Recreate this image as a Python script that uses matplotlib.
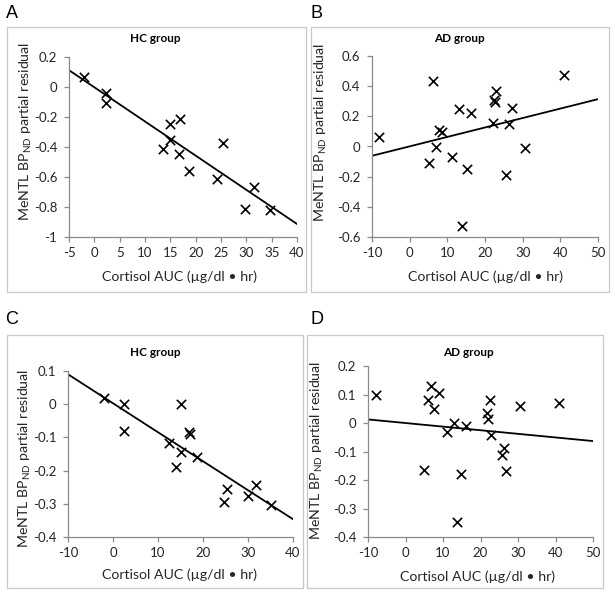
import numpy as np
import matplotlib
matplotlib.use("Agg")
import matplotlib.pyplot as plt
from matplotlib.patches import Rectangle

plt.rcParams['font.family'] = ['Lato', 'DejaVu Sans']

# ---- data ----
# HC group, panel A
hc_x_a = [-2.0, 2.3, 2.3, 15.0, 16.9, 15.0, 13.6, 16.7, 18.7, 25.3, 24.3, 31.6, 29.8, 34.7]
hc_y_a = [0.067, -0.04, -0.107, -0.244, -0.213, -0.351, -0.413, -0.447, -0.558,
          -0.373, -0.613, -0.669, -0.811, -0.818]
# AD group, panel B
ad_x_b = [-8.1, 6.2, 5.2, 7.0, 7.7, 8.7, 11.2, 13.0, 15.2, 16.2, 13.8, 22.0, 22.5,
          22.6, 23.0, 27.1, 26.4, 25.7, 30.6, 40.9]
ad_y_b = [0.06, 0.437, -0.11, 0.0, 0.11, 0.093, -0.07, 0.247, -0.15, 0.225, -0.525,
          0.155, 0.309, 0.296, 0.368, 0.254, 0.15, -0.188, -0.007, 0.474]
# HC group, panel C
hc_x_c = [-2.0, 2.4, 2.4, 15.0, 16.9, 17.0, 12.4, 15.0, 13.9, 18.7, 25.4, 24.6, 31.7, 29.9, 35.0]
hc_y_c = [0.019, 0.0, -0.081, 0.002, -0.085, -0.09, -0.116, -0.145, -0.188, -0.158,
          -0.254, -0.294, -0.242, -0.277, -0.304]
# AD group, panel D
ad_x_d = [-8.0, 6.9, 6.0, 8.9, 7.5, 4.9, 11.1, 12.8, 16.0, 14.9, 13.8, 22.5, 21.8,
          22.0, 22.9, 26.3, 25.8, 26.9, 30.5, 40.9]
ad_y_d = [0.097, 0.13, 0.082, 0.105, 0.048, -0.164, -0.032, 0.0, -0.012, -0.18, -0.347,
          0.082, 0.036, 0.013, -0.043, -0.087, -0.113, -0.168, 0.058, 0.07]

W, H = 615, 594
fig = plt.figure(figsize=(W / 100, H / 100), dpi=100)

xlabel = u"Cortisol AUC (\u00b5g/dl \u2022 hr)"
ylabel = r"MeNTL BP$_{\mathregular{ND}}$ partial residual"

# per-panel layout, all positions in reference pixels
panels = [
    dict(letter="A", title="HC group", x=hc_x_a, y=hc_y_a,
         ax_px=(69, 57, 297, 237), frame=(7, 27, 306, 292),
         xlim=(-5, 40), xticks=np.arange(-5, 41, 5),
         ylim=(-1, 0.2), yticks=np.arange(-1, 0.21, 0.2),
         letter_xy=(12, 13), title_xy=(155, 38), xl_xy=(180, 277), yl_xy=(26, 131)),
    dict(letter="B", title="AD group", x=ad_x_b, y=ad_y_b,
         ax_px=(372, 56, 598, 237), frame=(311, 27, 609, 292),
         xlim=(-10, 50), xticks=np.arange(-10, 51, 10),
         ylim=(-0.6, 0.6), yticks=np.arange(-0.6, 0.61, 0.2),
         letter_xy=(316, 13), title_xy=(459, 38), xl_xy=(485, 277), yl_xy=(321, 132)),
    dict(letter="C", title="HC group", x=hc_x_c, y=hc_y_c,
         ax_px=(68, 371, 293, 537), frame=(7, 335, 303, 588),
         xlim=(-10, 40), xticks=np.arange(-10, 41, 10),
         ylim=(-0.4, 0.1), yticks=np.arange(-0.4, 0.11, 0.1),
         letter_xy=(12, 320), title_xy=(155, 353), xl_xy=(180, 575), yl_xy=(25, 458)),
    dict(letter="D", title="AD group", x=ad_x_d, y=ad_y_d,
         ax_px=(368, 366, 593, 537), frame=(307, 335, 603, 588),
         xlim=(-10, 50), xticks=np.arange(-10, 51, 10),
         ylim=(-0.4, 0.2), yticks=np.arange(-0.4, 0.21, 0.1),
         letter_xy=(317, 320), title_xy=(468, 352), xl_xy=(477, 577), yl_xy=(317, 450)),
]


def fx(px):
    return px / W


def fy(py):
    return 1 - py / H


def fmt(v):
    s = "%.1f" % v
    if s in ("0.0", "-0.0"):
        return "0"
    if s == "-1.0":
        return "-1"
    return s


for p in panels:
    # light grey frame around each chart
    x0, y0, x1, y1 = p["frame"]
    fig.patches.append(Rectangle((fx(x0), fy(y1)), fx(x1 - x0), (y1 - y0) / H,
                                 transform=fig.transFigure, fill=False,
                                 edgecolor="#c8c8c8", linewidth=0.9))

    l, t, r, b = p["ax_px"]
    ax = fig.add_axes([fx(l), fy(b), fx(r - l), (b - t) / H])
    ax.scatter(p["x"], p["y"], marker="x", s=45, color="black", linewidths=1.2, zorder=3)

    # linear trendline over the whole axis range
    slope, icpt = np.polyfit(p["x"], p["y"], 1)
    xs = np.array(p["xlim"], dtype=float)
    ax.plot(xs, slope * xs + icpt, color="black", linewidth=1.3)

    ax.set_xlim(p["xlim"])
    ax.set_ylim(p["ylim"])
    ax.set_xticks(p["xticks"])
    ax.set_xticklabels([str(int(v)) for v in p["xticks"]])
    ax.set_yticks(p["yticks"])
    ax.set_yticklabels([fmt(v) for v in p["yticks"]])
    for s in ("top", "right"):
        ax.spines[s].set_visible(False)
    for s in ("left", "bottom"):
        ax.spines[s].set_color("#8a8a8a")
        ax.spines[s].set_linewidth(0.9)
    ax.tick_params(axis="both", labelsize=9.5, color="#8a8a8a", length=3.5,
                   width=0.9, labelcolor="#262626", pad=4)
    ax.tick_params(axis="y", pad=5)
    ax.patch.set_alpha(0)

    fig.text(fx(p["letter_xy"][0]), fy(p["letter_xy"][1]), p["letter"],
             fontsize=13, ha="center", va="center", family=["Liberation Sans"])
    fig.text(fx(p["title_xy"][0]), fy(p["title_xy"][1]), p["title"],
             fontsize=8.5, fontweight="bold", ha="center", va="center")
    fig.text(fx(p["xl_xy"][0]), fy(p["xl_xy"][1]), xlabel,
             fontsize=10.2, ha="center", va="center", color="#262626")
    fig.text(fx(p["yl_xy"][0]), fy(p["yl_xy"][1]), ylabel,
             fontsize=10.2, ha="center", va="center", rotation=90, color="#262626")

fig.savefig("out.png", dpi=100)
